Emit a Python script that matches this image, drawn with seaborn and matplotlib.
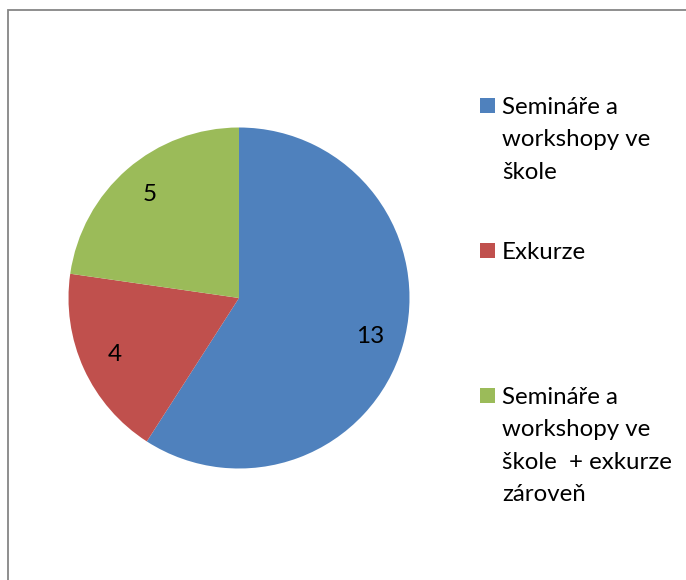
import matplotlib
matplotlib.use("Agg")
import matplotlib.pyplot as plt
import seaborn as sns
from matplotlib.patches import Rectangle

# ---- data ----
categories = [
    "Semináře a\nworkshopy ve\nškole",
    "Exkurze",
    "Semináře a\nworkshopy ve\nškole  + exkurze\nzároveň",
]
values = [13, 4, 5]
colors = ["#4F81BD", "#C0504D", "#9BBB59"]

sns.set_theme(style="white")
plt.rcParams['font.family'] = ['Lato', 'DejaVu Sans']

W, H = 686, 580
fig = plt.figure(figsize=(W / 100, H / 100), dpi=100)
fig.patch.set_facecolor("white")

# chart frame (only top/left edges visible in the crop)
fig.patches.append(Rectangle((7.5 / W, -0.1), 1.2, 1.1 - 10 / H,
                             transform=fig.transFigure, fill=False,
                             edgecolor="#868686", linewidth=1.3))

cx, cy, r = 239, 298, 170.5
pad = 1.04
ax = fig.add_axes([(cx - r * pad) / W, (H - cy - r * pad) / H,
                   2 * r * pad / W, 2 * r * pad / H])
total = sum(values)
wedges, texts, autotexts = ax.pie(
    values, colors=colors, startangle=90, counterclock=False, radius=1,
    autopct=lambda p: f"{p * total / 100:.0f}", pctdistance=0.8,
    wedgeprops=dict(linewidth=0),
    textprops=dict(fontsize=17.5, color="black"))
ax.set_xlim(-pad, pad)
ax.set_ylim(-pad, pad)
ax.set_axis_off()

# legend (Excel style: equal-height slots, text top-aligned)
x_sq, x_txt = 480, 502
first_base, slot, line_h = 114, 145, 32.3
for i, (lab, col) in enumerate(zip(categories, colors)):
    base = first_base + slot * i
    fig.patches.append(Rectangle((x_sq / W, 1 - (base - 1) / H), 15 / W, 15 / H,
                                 transform=fig.transFigure,
                                 facecolor=col, edgecolor="none"))
    for j, line in enumerate(lab.split("\n")):
        fig.text(x_txt / W, 1 - (base + line_h * j) / H, line,
                 fontsize=17.3, color="black", ha="left", va="baseline")

fig.savefig("out.png", dpi=100, facecolor="white")
